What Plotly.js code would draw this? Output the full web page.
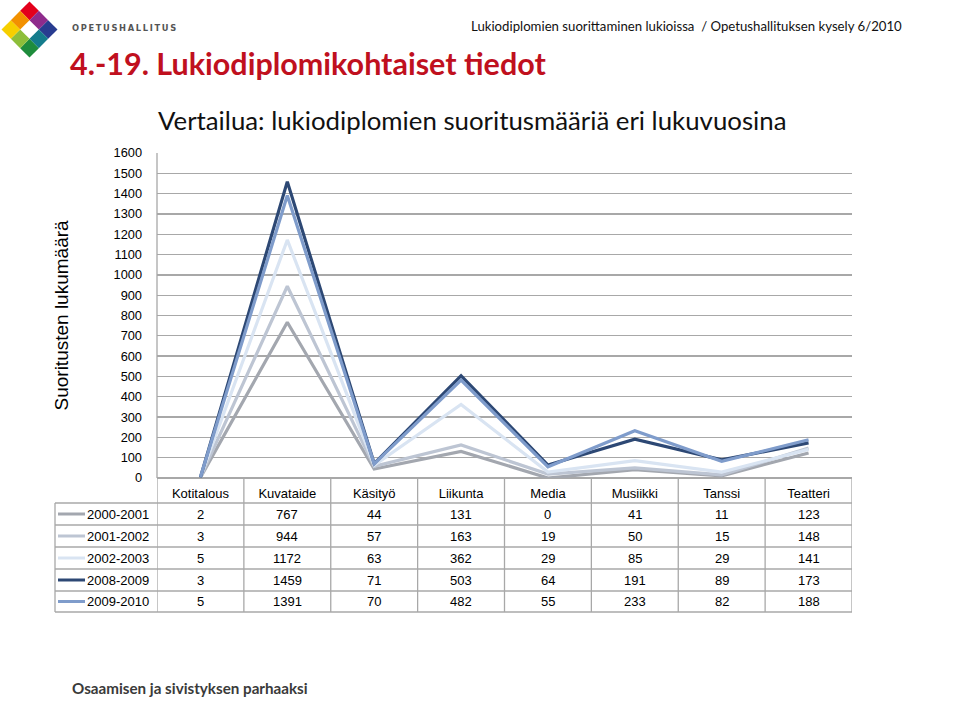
<!DOCTYPE html>
<html>
<head>
<meta charset="utf-8">
<script src="https://cdn.plot.ly/plotly-3.0.1.min.js"></script>
<style>html,body{margin:0;padding:0;background:#fff;}#chart{width:960px;height:712px;}</style>
</head>
<body>
<div id="chart"></div>
<script>
// ---- Data ----
const categories = ["Kotitalous", "Kuvataide", "Käsityö", "Liikunta", "Media", "Musiikki", "Tanssi", "Teatteri"];
const seriesNames = ["2000-2001", "2001-2002", "2002-2003", "2008-2009", "2009-2010"];
const s2000_2001 = [2, 767, 44, 131, 0, 41, 11, 123];
const s2001_2002 = [3, 944, 57, 163, 19, 50, 15, 148];
const s2002_2003 = [5, 1172, 63, 362, 29, 85, 29, 141];
const s2008_2009 = [3, 1459, 71, 503, 64, 191, 89, 173];
const s2009_2010 = [5, 1391, 70, 482, 55, 233, 82, 188];
const seriesValues = [s2000_2001, s2001_2002, s2002_2003, s2008_2009, s2009_2010];
const yTickValues = [0,100,200,300,400,500,600,700,800,900,1000,1100,1200,1300,1400,1500,1600];

// ---- Styles ----
const W = 960, H = 712;
const colors = ["#A3A7AF", "#BDC5D3", "#D9E4F2", "#2D4874", "#7F9CCB"];
const px = v => v / W;
const py = v => 1 - v / H;
const gridCol = "#A8A8A8";
const FONT = "Liberation Sans, Arial, sans-serif";

const traces = seriesValues.map((vals, i) => ({
  type: "scatter", mode: "lines",
  name: seriesNames[i],
  x: categories, y: vals,
  line: {color: colors[i], width: 3.2},
  showlegend: false, hoverinfo: "skip"
}));

// table geometry (pixels)
const tableLeft = 55, plotLeft = 157, plotRight = 852, plotBottom = 478, plotTop = 153;
const rowLines = [503, 525, 547, 569, 591, 612];
const rowCenters = [514, 536, 558, 580, 601.5];

const shapes = [];
// plot left frame
shapes.push({type:"line", xref:"paper", yref:"paper", x0:px(plotLeft), x1:px(plotLeft), y0:py(plotTop), y1:py(plotBottom), line:{color:gridCol, width:1.3}});
// table horizontal lines
rowLines.forEach(r => shapes.push({type:"line", xref:"paper", yref:"paper", x0:px(tableLeft), x1:px(plotRight), y0:py(r), y1:py(r), line:{color:gridCol, width:1.3}}));
// table vertical lines at category boundaries
for (let k = 0; k <= categories.length; k++) {
  shapes.push({type:"line", xref:"x", yref:"paper", x0:k-0.5, x1:k-0.5, y0:py(plotBottom), y1:py(612), line:{color:gridCol, width:1.3}});
}
// legend column left border
shapes.push({type:"line", xref:"paper", yref:"paper", x0:px(tableLeft), x1:px(tableLeft), y0:py(503), y1:py(612), line:{color:gridCol, width:1.3}});
// legend key lines
rowCenters.forEach((c, i) => shapes.push({type:"line", xref:"paper", yref:"paper", x0:px(58), x1:px(85), y0:py(c), y1:py(c), line:{color:colors[i], width:3}}));

// logo: rotated 3x3 grid
const cx = 29.5, cy = 29.5, R = 28, st = R/3;
const logoCells = [[0,0,"#E3001B"],[1,0,"#8E2B8C"],[2,0,"#283C90"],[2,1,"#147C8C"],[2,2,"#1E8C3C"],[1,2,"#8DBE3A"],[0,2,"#F6CF00"],[0,1,"#F29100"]];
logoCells.forEach(([i,j,col]) => {
  const pt = (a,b) => [cx + a*st - b*st, cy - R + a*st + b*st];
  const c = [pt(i,j), pt(i+1,j), pt(i+1,j+1), pt(i,j+1)];
  const path = "M" + c.map(p => px(p[0]).toFixed(5) + "," + py(p[1]).toFixed(5)).join(" L") + " Z";
  shapes.push({type:"path", xref:"paper", yref:"paper", path:path, fillcolor:col, line:{width:0}});
});

const annotations = [];
// table values
seriesValues.forEach((vals, s) => {
  vals.forEach((v, c) => annotations.push({xref:"x", yref:"paper", x:categories[c], y:py(rowCenters[s]), text:String(v), showarrow:false, font:{family:FONT, size:13, color:"#000"}, yanchor:"middle"}));
  annotations.push({xref:"paper", yref:"paper", x:px(151), y:py(rowCenters[s]), xanchor:"right", yanchor:"middle", text:seriesNames[s], showarrow:false, font:{family:FONT, size:13, color:"#000"}});
});
// y axis title
annotations.push({xref:"paper", yref:"paper", x:px(61), y:py(315.5), text:"Suoritusten lukumäärä", textangle:-90, showarrow:false, xanchor:"center", yanchor:"middle", font:{family:FONT, size:19, color:"#000"}});
// headings
annotations.push({xref:"paper", yref:"paper", x:px(68), y:py(63), xanchor:"left", yanchor:"middle", text:"<b>4.-19. Lukiodiplomikohtaiset tiedot</b>", showarrow:false, font:{family:"Lato, sans-serif", size:30.5, color:"#C0101E"}});
annotations.push({xref:"paper", yref:"paper", x:px(156), y:py(120), xanchor:"left", yanchor:"middle", text:"Vertailua: lukiodiplomien suoritusmääriä eri lukuvuosina", showarrow:false, font:{family:"Lato, sans-serif", size:25.8, color:"#111"}});
annotations.push({xref:"paper", yref:"paper", x:px(904), y:py(26), xanchor:"right", yanchor:"middle", text:"Lukiodiplomien suorittaminen lukioissa  / Opetushallituksen kysely 6/2010", showarrow:false, font:{family:"Lato, sans-serif", size:13.2, color:"#111"}});
annotations.push({xref:"paper", yref:"paper", x:px(70), y:py(28), xanchor:"left", yanchor:"middle", text:"<b>O\u2009P\u2009E\u2009T\u2009U\u2009S\u2009H\u2009A\u2009L\u2009L\u2009I\u2009T\u2009U\u2009S</b>", showarrow:false, font:{family:"DejaVu Sans, sans-serif", size:8.3, color:"#555"}});
annotations.push({xref:"paper", yref:"paper", x:px(70), y:py(688), xanchor:"left", yanchor:"middle", text:"<b>Osaamisen ja sivistyksen parhaaksi</b>", showarrow:false, font:{family:"Lato, sans-serif", size:15.2, color:"#3A3A3A"}});

const layout = {
  width: W, height: H,
  margin: {l:0, r:0, t:0, b:0},
  paper_bgcolor: "#fff", plot_bgcolor: "#fff",
  showlegend: false,
  xaxis: {
    domain: [px(plotLeft), px(plotRight)],
    type: "category", range: [-0.5, categories.length - 0.5],
    showgrid: false, zeroline: false, showline: false, ticks: "",
    tickfont: {family: FONT, size: 13, color: "#000"},
    ticklabelstandoff: 6, fixedrange: true
  },
  yaxis: {
    domain: [py(plotBottom), py(plotTop)],
    range: [0, 1600], tickvals: yTickValues, ticktext: yTickValues.map(String),
    showgrid: true, gridcolor: gridCol, gridwidth: 1.3,
    zeroline: true, zerolinecolor: gridCol, zerolinewidth: 1.3,
    showline: false, ticks: "",
    tickfont: {family: FONT, size: 12.8, color: "#000"},
    ticklabelstandoff: 14, fixedrange: true
  },
  shapes: shapes,
  annotations: annotations
};

Plotly.newPlot("chart", traces, layout, {staticPlot: true, displayModeBar: false});
</script>
</body>
</html>
